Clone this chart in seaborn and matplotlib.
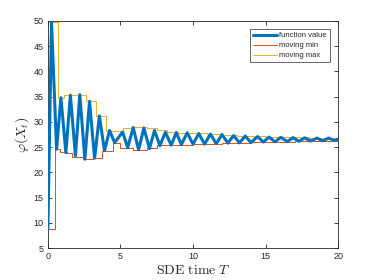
import numpy as np
import pandas as pd
import matplotlib
matplotlib.use("Agg")
import matplotlib.pyplot as plt
import seaborn as sns

# extrema of the function value (time, value)
f_time = [0.0, 0.25, 0.6, 0.9, 1.24, 1.55, 1.9, 2.2, 2.55, 2.87, 3.22, 3.55, 3.9,
          4.25, 4.6, 5.15, 5.5, 5.88, 6.25, 6.62, 7.0, 7.35, 7.72, 8.1, 8.5, 8.85,
          9.2, 9.6, 10.0, 10.4, 10.8, 11.2, 11.6, 12.0, 12.4, 12.8, 13.2, 13.6,
          14.0, 14.45, 14.85, 15.25, 15.65, 16.05, 16.5, 16.9, 17.3, 17.7, 18.1,
          18.55, 18.95, 19.35, 19.75, 20.0]
f_value = [8.8, 49.8, 24.6, 34.8, 23.9, 35.3, 23.3, 35.4, 22.6, 34.1, 22.8, 31.2, 24.3,
           28.3, 25.9, 28.0, 24.9, 28.9, 24.5, 28.8, 24.7, 28.3, 25.3, 27.95, 25.4, 27.9,
           25.5, 27.85, 25.6, 27.7, 25.6, 27.6, 25.7, 27.5, 25.8, 27.3, 25.85, 27.2,
           25.9, 27.1, 26.0, 27.0, 26.05, 26.95, 26.1, 26.9, 26.15, 26.85, 26.2,
           26.8, 26.25, 26.8, 26.3, 26.6]

# moving min steps
min_time = [0.0, 0.48, 0.83, 1.29, 1.63, 2.44, 3.13, 3.7, 4.5, 4.97, 5.89, 6.8, 7.5,
            8.2, 9.0, 10.0, 11.0, 12.0, 13.0, 14.0, 15.0, 16.0, 17.0, 18.0, 19.0, 20.0]
min_value = [8.8, 24.6, 24.1, 23.8, 23.0, 22.6, 22.8, 24.3, 25.9, 24.8, 24.4, 24.8, 25.4,
             25.5, 25.5, 25.6, 25.7, 25.8, 25.85, 25.95, 26.0, 26.1, 26.15, 26.2, 26.25, 26.3]

# moving max steps
max_time = [0.0, 0.67, 1.1, 1.6, 2.6, 3.35, 4.0, 4.6, 5.2, 5.9, 6.8, 7.5, 8.2, 9.0,
            10.0, 11.0, 12.0, 13.0, 14.0, 15.0, 16.0, 17.0, 18.0, 19.0, 20.0]
max_value = [49.8, 34.8, 35.3, 35.4, 34.1, 31.2, 28.3, 28.2, 28.8, 29.0, 28.8, 28.4, 28.0, 27.9,
             27.8, 27.6, 27.5, 27.3, 27.2, 27.1, 27.0, 26.95, 26.9, 26.85, 26.85]

sns.set_theme(style="white")
plt.rcParams["font.family"] = ["Liberation Sans", "DejaVu Sans"]
plt.rcParams["mathtext.fontset"] = "cm"

df_f = pd.DataFrame({"t": f_time, "v": f_value})
df_min = pd.DataFrame({"t": min_time, "v": min_value})
df_max = pd.DataFrame({"t": max_time, "v": max_value})

fig = plt.figure(figsize=(3.74, 2.80), dpi=100)
ax = fig.add_axes([0.128, 0.114, 0.776, 0.811])

sns.lineplot(data=df_f, x="t", y="v", ax=ax, color="#0072BD", linewidth=2.2,
             estimator=None, sort=False, label="function value",
             solid_joinstyle="round", zorder=3)
sns.lineplot(data=df_min, x="t", y="v", ax=ax, color="#D95319", linewidth=0.7,
             estimator=None, sort=False, drawstyle="steps-post", label="moving min", zorder=2)
sns.lineplot(data=df_max, x="t", y="v", ax=ax, color="#EDB120", linewidth=0.7,
             estimator=None, sort=False, drawstyle="steps-post", label="moving max", zorder=2)

ax.set_xlim(0, 20)
ax.set_ylim(5, 50)
ax.set_xticks([0, 5, 10, 15, 20])
ax.set_yticks(np.arange(5, 51, 5))
ax.tick_params(direction="in", length=3, width=0.6, labelsize=6.5, colors="#262626",
               top=True, right=True, bottom=True, left=True, pad=3)
for s in ax.spines.values():
    s.set_color("#262626")
    s.set_linewidth(0.6)

ax.set_xlabel(r"$\mathrm{SDE\ time}\ T$", fontsize=10, labelpad=1)
ax.set_ylabel(r"$\varphi(X_t)$", fontsize=10, labelpad=2)

leg = ax.legend(loc="upper right", bbox_to_anchor=(0.972, 0.965), borderaxespad=0,
                fontsize=5.5, frameon=True, fancybox=False, handlelength=3.2,
                handletextpad=0.3, borderpad=0.4, labelspacing=0.35)
leg.get_frame().set_edgecolor("#262626")
leg.get_frame().set_linewidth(0.6)

plt.savefig("out.png", dpi=100)
